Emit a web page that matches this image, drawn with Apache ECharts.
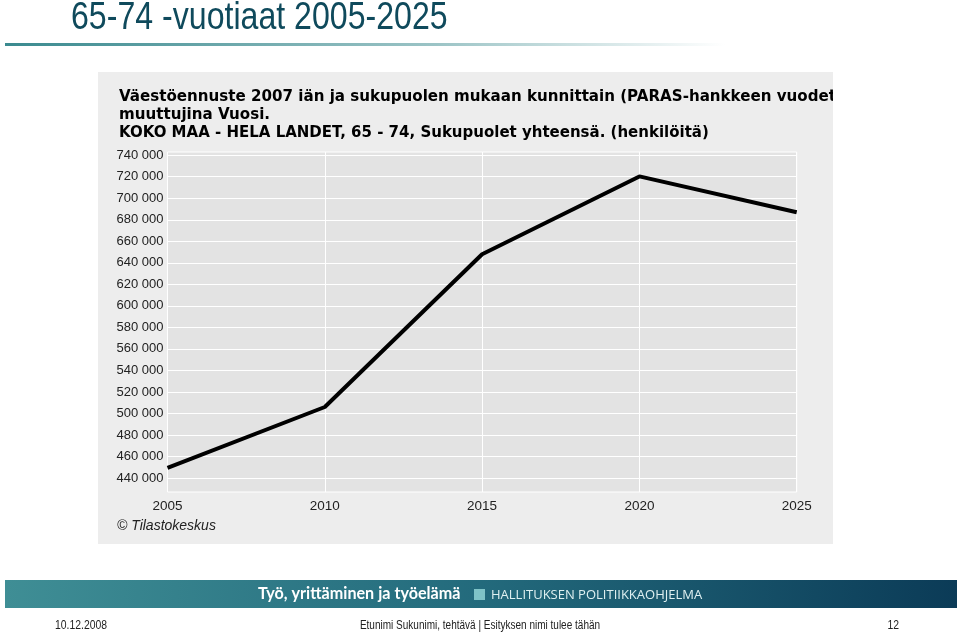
<!DOCTYPE html>
<html><head><meta charset="utf-8">
<script src="https://cdn.jsdelivr.net/npm/echarts@6/dist/echarts.min.js"></script>
<style>html,body{margin:0;padding:0;background:#fff}#c{width:960px;height:635px}</style>
</head><body><div id="c"></div>
<script>
const years = [2005, 2010, 2015, 2020, 2025];
const population = [449500, 506000, 648000, 720300, 687000];
const yTicks = [440000, 460000, 480000, 500000, 520000, 540000, 560000, 580000, 600000,
  620000, 640000, 660000, 680000, 700000, 720000, 740000];
const slideTitle = '65-74 -vuotiaat 2005-2025';
const chartTitleLines = [
  'Väestöennuste 2007 iän ja sukupuolen mukaan kunnittain (PARAS-hankkeen vuodet',
  'muuttujina Vuosi.',
  'KOKO MAA - HELA LANDET, 65 - 74, Sukupuolet yhteensä. (henkilöitä)'
];
const sourceText = '© Tilastokeskus';
const bannerMain = 'Työ, yrittäminen ja työelämä';
const bannerSub = 'HALLITUKSEN POLITIIKKAOHJELMA';
const footerDate = '10.12.2008';
const footerMid = 'Etunimi Sukunimi, tehtävä | Esityksen nimi tulee tähän';
const footerPage = '12';

const chart = echarts.init(document.getElementById('c'), null, {renderer: 'canvas'});
const fmt = v => String(v).replace(/\B(?=(\d{3})+(?!\d))/g, ' ');

chart.setOption({
  backgroundColor: '#ffffff',
  animation: false,
  grid: {left: 167.5, right: 163.3, top: 152, bottom: 143, show: true,
    backgroundColor: '#e3e3e3', borderColor: '#ffffff', borderWidth: 1},
  xAxis: {
    type: 'value', min: 2005, max: 2025, interval: 5,
    axisLine: {show: false}, axisTick: {show: false},
    splitLine: {show: true, lineStyle: {color: '#ffffff', width: 1}},
    axisLabel: {color: '#222', fontFamily: 'Liberation Sans', fontSize: 13.5, margin: 7,
      formatter: v => String(v)}
  },
  yAxis: {
    type: 'value', min: 427000, max: 743000,
    axisLine: {show: false},
    axisTick: {show: false, customValues: yTicks},
    splitLine: {show: true, lineStyle: {color: '#ffffff', width: 1}},
    axisLabel: {customValues: yTicks, color: '#222', fontFamily: 'Liberation Sans', fontSize: 13,
      margin: 4, formatter: v => fmt(v)}
  },
  series: [{
    type: 'line', data: years.map((y, i) => [y, population[i]]),
    symbol: 'none', lineStyle: {color: '#000', width: 4}, z: 5
  }],
  graphic: [
    {type: 'rect', z: -10, shape: {x: 98, y: 72, width: 735, height: 472}, style: {fill: '#ededed'}},
    {type: 'text', z: 10, x: 71, y: 19, scaleX: 0.845, style: {text: slideTitle, fill: '#0f4a5c',
      font: '38px "Liberation Sans"', verticalAlign: 'middle'}},
    {type: 'rect', z: 10, shape: {x: 5, y: 43, width: 720, height: 3},
      style: {fill: new echarts.graphic.LinearGradient(0, 0, 1, 0, [
        {offset: 0, color: '#3a8a8f'}, {offset: 0.6, color: '#9cc4c6'}, {offset: 1, color: '#ffffff'}])}},
    {type: 'text', z: 10, x: 119, y: 97, style: {text: chartTitleLines[0], fill: '#000',
      font: 'bold 15.1px "DejaVu Sans"', verticalAlign: 'middle'}},
    {type: 'text', z: 10, x: 119, y: 115, style: {text: chartTitleLines[1], fill: '#000',
      font: 'bold 15.1px "DejaVu Sans"', verticalAlign: 'middle'}},
    {type: 'text', z: 10, x: 119, y: 133, style: {text: chartTitleLines[2], fill: '#000',
      font: 'bold 15px "DejaVu Sans"', verticalAlign: 'middle'}},
    {type: 'rect', z: 20, shape: {x: 833, y: 72, width: 127, height: 472}, style: {fill: '#ffffff'}},
    {type: 'text', z: 10, x: 117, y: 519, style: {text: sourceText, fill: '#222',
      font: 'italic 14px "Liberation Sans"'}},
    {type: 'rect', z: 10, shape: {x: 5, y: 580, width: 952, height: 28},
      style: {fill: new echarts.graphic.LinearGradient(0, 0, 1, 0, [
        {offset: 0, color: '#3f8e95'}, {offset: 0.5, color: '#236a7c'}, {offset: 1, color: '#0b3b57'}])}},
    {type: 'text', z: 11, x: 258, y: 594, scaleX: 0.95, style: {text: bannerMain, fill: '#ffffff',
      font: 'bold 17px Lato', verticalAlign: 'middle'}},
    {type: 'rect', z: 11, shape: {x: 474, y: 589, width: 11, height: 11}, style: {fill: '#7fc3c7'}},
    {type: 'text', z: 11, x: 491, y: 595, style: {text: bannerSub, fill: '#dff0f1',
      font: '13px "Open Sans"', verticalAlign: 'middle'}},
    {type: 'text', z: 10, x: 55, y: 625, scaleX: 0.8, style: {text: footerDate, fill: '#222',
      font: '13px "Liberation Sans"', verticalAlign: 'middle'}},
    {type: 'text', z: 10, x: 480, y: 625, scaleX: 0.77, style: {text: footerMid, fill: '#222',
      font: '13px "Liberation Sans"', verticalAlign: 'middle', align: 'center'}},
    {type: 'text', z: 10, x: 899, y: 625, scaleX: 0.8, style: {text: footerPage, fill: '#222',
      font: '13px "Liberation Sans"', verticalAlign: 'middle', align: 'right'}}
  ]
});
</script>
</body></html>
